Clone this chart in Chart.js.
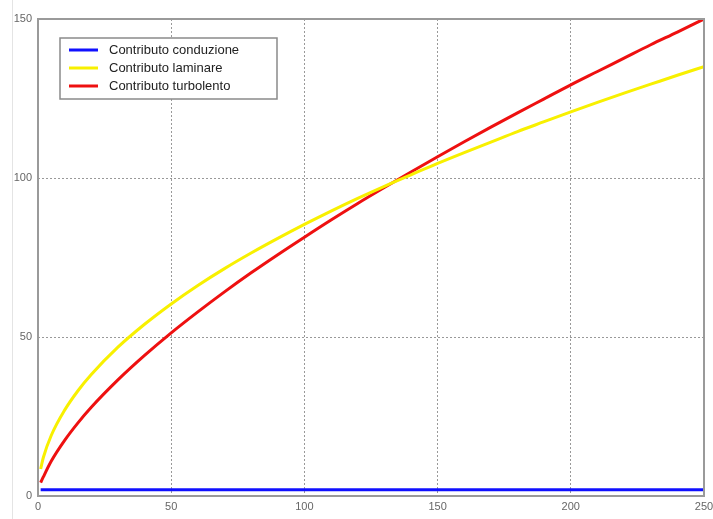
<!DOCTYPE html>
<html>
<head>
<meta charset="utf-8">
<script src="https://cdn.jsdelivr.net/npm/chart.js@4/dist/chart.umd.min.js"></script>
<style>
  html, body { margin: 0; padding: 0; background: #fff; }
  #wrap { position: relative; width: 713px; height: 519px; }
  #edge { position: absolute; left: 12px; top: 0; width: 1px; height: 519px; background: #e4e4e4; }
</style>
</head>
<body>
<div id="wrap">
  <div id="edge"></div>
  <canvas id="chart" width="713" height="519"></canvas>
</div>
<script>
const xValues = [1, 2, 5, 10, 15, 20, 30, 40, 50, 60, 70, 80, 90, 100, 110, 120, 130, 140, 150, 160, 170, 180, 190, 200, 210, 220, 230, 240, 250];
const conduzione = [2, 2, 2, 2, 2, 2, 2, 2, 2, 2, 2, 2, 2, 2, 2, 2, 2, 2, 2, 2, 2, 2, 2, 2, 2, 2, 2, 2, 2];
const laminare = [8.5, 12.1, 19.1, 27.0, 33.1, 38.2, 46.8, 54.0, 60.4, 66.2, 71.5, 76.4, 81.0, 85.4, 89.6, 93.6, 97.4, 101.0, 104.6, 108.0, 111.3, 114.6, 117.7, 120.8, 123.8, 126.7, 129.5, 132.3, 135.0];
const turbolento = [4.2, 6.0, 11.0, 17.5, 23.0, 27.9, 36.5, 44.2, 51.3, 57.9, 64.2, 70.2, 75.9, 81.4, 86.8, 92.0, 97.0, 101.9, 106.7, 111.4, 116.0, 120.5, 124.9, 129.3, 133.5, 137.7, 141.9, 145.9, 150.0];
const xTicks = [0, 50, 100, 150, 200, 250];
const yTicks = [0, 50, 100, 150];

const toPoints = (ys) => ys.map((y, i) => ({ x: xValues[i], y }));

// legend box + plot frame, drawn like the original figure
const frameAndLegend = {
  id: "frameAndLegend",
  afterDatasetsDraw(chart) {
    const { ctx, chartArea: a } = chart;
    ctx.save();
    ctx.strokeStyle = "#9a9a9a";
    ctx.lineWidth = 2;
    ctx.strokeRect(a.left, a.top, a.right - a.left, a.bottom - a.top);

    const bx = 60, by = 38, bw = 217, bh = 61;
    ctx.fillStyle = "#fff";
    ctx.fillRect(bx, by, bw, bh);
    ctx.strokeStyle = "#8a8a8a";
    ctx.lineWidth = 1.5;
    ctx.strokeRect(bx, by, bw, bh);

    ctx.font = "13px 'Liberation Sans', Arial, sans-serif";
    ctx.textBaseline = "middle";
    chart.data.datasets.forEach((ds, i) => {
      const y = by + 12 + i * 18;
      ctx.strokeStyle = ds.borderColor;
      ctx.lineWidth = 3;
      ctx.beginPath();
      ctx.moveTo(bx + 9, y);
      ctx.lineTo(bx + 38, y);
      ctx.stroke();
      ctx.fillStyle = "#222";
      ctx.fillText(ds.label, bx + 49, y);
    });
    ctx.restore();
  }
};

new Chart(document.getElementById("chart"), {
  type: "line",
  data: {
    datasets: [
      { label: "Contributo conduzione", data: toPoints(conduzione), borderColor: "#1010ff" },
      { label: "Contributo laminare", data: toPoints(laminare), borderColor: "#f8f000" },
      { label: "Contributo turbolento", data: toPoints(turbolento), borderColor: "#ee1010" },
    ],
  },
  options: {
    responsive: false,
    animation: false,
    layout: { padding: { top: 19, right: 0, left: 0, bottom: 0 } },
    elements: {
      point: { radius: 0 },
      line: { borderWidth: 3, tension: 0.4, cubicInterpolationMode: "monotone" },
    },
    plugins: { legend: { display: false }, tooltip: { enabled: false } },
    scales: {
      x: {
        type: "linear",
        min: 0,
        max: 250,
        afterBuildTicks: (s) => { s.ticks = xTicks.map((v) => ({ value: v })); },
        afterFit: (s) => { s.height = 23; s.paddingRight = 9; },
        ticks: { color: "#666", font: { size: 11, family: "'Liberation Sans', Arial" }, padding: 4, maxRotation: 0 },
        grid: { color: "#999", drawTicks: false, lineWidth: 1 },
        border: { display: false, dash: [2, 2] },
      },
      y: {
        min: 0,
        max: 150,
        afterBuildTicks: (s) => { s.ticks = yTicks.map((v) => ({ value: v })); },
        afterFit: (s) => { s.width = 38; },
        ticks: { color: "#666", font: { size: 11, family: "'Liberation Sans', Arial" }, padding: 6 },
        grid: { color: "#999", drawTicks: false, lineWidth: 1 },
        border: { display: false, dash: [2, 2] },
      },
    },
  },
  plugins: [frameAndLegend],
});
</script>
</body>
</html>
